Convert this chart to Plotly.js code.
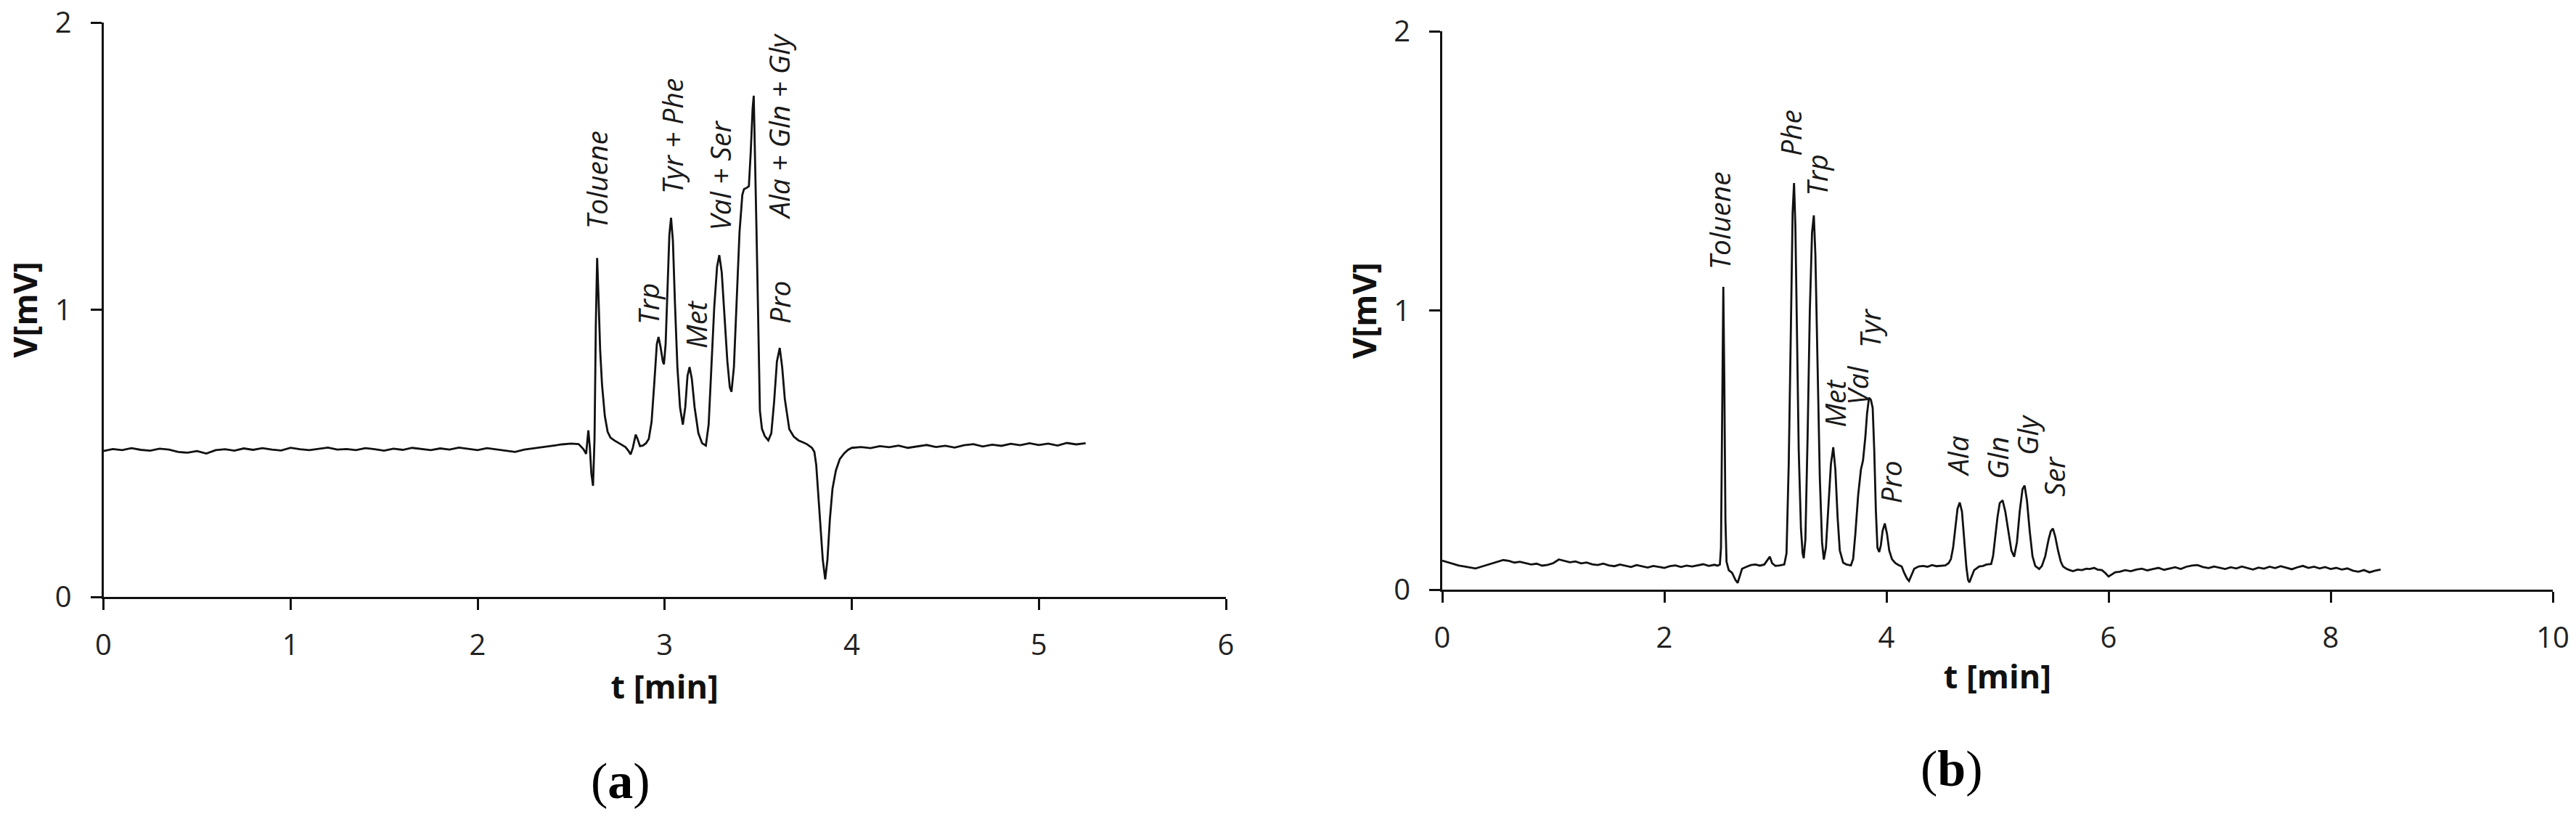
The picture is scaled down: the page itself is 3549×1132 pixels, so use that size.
<!DOCTYPE html>
<html>
<head>
<meta charset="utf-8">
<script src="https://cdn.plot.ly/plotly-3.0.1.min.js"></script>
<style>html,body{margin:0;padding:0;background:#fff;}#chart{width:3549px;height:1132px;}</style>
</head>
<body>
<div id="chart"></div>
<script>
// ---------- Panel (a) data ----------
const baseTimeA = [0,0.05,0.1,0.15,0.2,0.25,0.3,0.35,0.4,0.45,0.5,0.55,0.6,0.65,0.7,0.75,0.8,0.85,0.9,0.95,1.0,1.05,1.1,1.15,1.2,1.25,1.3,1.35,1.4,1.45,1.5,1.55,1.6,1.65,1.7,1.75,1.8,1.85,1.9,1.95,2.0,2.05,2.1,2.15,2.2,2.25,2.3,2.35,2.4,2.45,2.5];
const baseSignalA = [0.508,0.515,0.511,0.518,0.512,0.509,0.516,0.513,0.505,0.502,0.508,0.499,0.511,0.514,0.509,0.517,0.512,0.518,0.513,0.510,0.519,0.514,0.511,0.516,0.520,0.513,0.515,0.511,0.518,0.514,0.509,0.516,0.512,0.519,0.515,0.511,0.517,0.513,0.520,0.516,0.511,0.518,0.514,0.509,0.505,0.513,0.517,0.521,0.526,0.531,0.534];
const peakTimeA = [2.54,2.565,2.58,2.592,2.6,2.608,2.617,2.625,2.632,2.639,2.646,2.655,2.665,2.68,2.695,2.71,2.73,2.75,2.77,2.79,2.805,2.818,2.83,2.845,2.855,2.868,2.883,2.9,2.915,2.93,2.945,2.958,2.967,2.978,2.99,2.996,3.005,3.015,3.025,3.034,3.044,3.055,3.068,3.082,3.097,3.11,3.122,3.133,3.145,3.16,3.18,3.2,3.22,3.235,3.25,3.265,3.28,3.292,3.305,3.32,3.335,3.348,3.357,3.37,3.385,3.4,3.415,3.424,3.44,3.45,3.46,3.47,3.476,3.483,3.49,3.496,3.503,3.509,3.52,3.535,3.554,3.57,3.585,3.6,3.615,3.628,3.642,3.656,3.666,3.69,3.715,3.74,3.76,3.787,3.8,3.81,3.82,3.832,3.845,3.858,3.87,3.883,3.897,3.915,3.936,3.96,3.98,4.0];
const peakSignalA = [0.532,0.515,0.498,0.58,0.52,0.43,0.387,0.55,0.95,1.18,1.05,0.86,0.74,0.63,0.575,0.555,0.545,0.538,0.53,0.522,0.51,0.496,0.52,0.565,0.55,0.525,0.527,0.535,0.55,0.61,0.75,0.88,0.905,0.87,0.82,0.81,0.88,1.08,1.26,1.32,1.24,1.02,0.80,0.66,0.60,0.66,0.77,0.80,0.76,0.66,0.57,0.535,0.527,0.60,0.80,1.01,1.15,1.19,1.13,0.97,0.82,0.73,0.714,0.80,1.05,1.27,1.40,1.42,1.425,1.43,1.55,1.70,1.745,1.55,1.30,1.10,0.85,0.648,0.585,0.56,0.545,0.57,0.68,0.82,0.867,0.80,0.69,0.62,0.584,0.558,0.545,0.538,0.532,0.519,0.505,0.46,0.37,0.261,0.13,0.061,0.13,0.27,0.377,0.44,0.48,0.50,0.512,0.519];
const tailTimeA = [4.05,4.1,4.15,4.2,4.25,4.3,4.35,4.4,4.45,4.5,4.55,4.6,4.65,4.7,4.75,4.8,4.85,4.9,4.95,5.0,5.05,5.1,5.15,5.2,5.25];
const tailSignalA = [0.522,0.518,0.525,0.521,0.527,0.519,0.524,0.529,0.522,0.526,0.520,0.528,0.532,0.524,0.530,0.526,0.533,0.528,0.535,0.529,0.534,0.527,0.536,0.531,0.535];

const labelTextA = ['Toluene','Trp','Tyr + Phe','Met','Val + Ser','Ala + Gln + Gly','Pro'];
const labelTimeA = [2.632,2.907,3.036,3.165,3.295,3.605,3.612];
const labelLevelA = [1.453,1.021,1.603,0.949,1.467,1.638,1.025];

// ---------- Panel (b) data ----------
const baseTimeB = [0,0.05,0.1,0.15,0.2,0.25,0.3,0.35,0.4,0.45,0.5,0.55,0.6,0.65,0.7,0.75,0.8,0.85,0.9,0.95,1.0,1.05,1.1,1.15,1.2,1.25,1.3,1.35,1.4,1.45,1.5,1.55,1.6,1.65,1.7,1.75,1.8,1.85,1.9,1.95,2.0,2.05,2.1,2.15,2.2,2.25,2.3,2.35,2.4,2.45];
const baseSignalB = [0.104,0.098,0.092,0.086,0.083,0.079,0.076,0.082,0.088,0.095,0.101,0.106,0.103,0.097,0.100,0.094,0.090,0.093,0.086,0.089,0.095,0.108,0.104,0.098,0.101,0.094,0.097,0.091,0.088,0.093,0.087,0.084,0.090,0.086,0.081,0.088,0.083,0.079,0.085,0.082,0.078,0.084,0.087,0.081,0.086,0.083,0.088,0.091,0.085,0.089];
const peakTimeB = [2.48,2.5,2.51,2.52,2.531,2.54,2.55,2.56,2.58,2.61,2.64,2.66,2.68,2.7,2.74,2.78,2.82,2.86,2.9,2.93,2.95,2.97,3.0,3.04,3.08,3.1,3.12,3.14,3.155,3.168,3.18,3.195,3.21,3.23,3.245,3.255,3.27,3.29,3.31,3.33,3.346,3.36,3.38,3.4,3.42,3.436,3.455,3.475,3.5,3.521,3.54,3.56,3.58,3.61,3.64,3.68,3.7,3.72,3.745,3.77,3.789,3.81,3.825,3.843,3.86,3.876,3.89,3.905,3.919,3.935,3.95,3.965,3.985,4.005,4.025,4.05,4.08,4.11,4.137,4.16,4.185,4.203,4.225,4.25,4.29,4.33,4.37,4.41,4.45,4.49,4.53,4.56,4.58,4.6,4.62,4.64,4.66,4.68,4.7,4.72,4.735,4.747,4.765,4.79,4.835,4.87,4.9,4.943,4.96,4.98,5.0,5.02,5.046,5.07,5.1,5.125,5.15,5.175,5.2,5.225,5.244,5.265,5.29,5.315,5.34,5.375,5.4,5.43,5.46,5.48,5.499,5.52,5.545,5.57,5.59,5.62,5.65,5.68,5.72,5.76,5.8,5.83,5.87,5.9,5.94,5.97,6.0,6.03,6.06];
const peakSignalB = [0.086,0.09,0.15,0.55,1.085,0.75,0.25,0.10,0.07,0.06,0.035,0.024,0.05,0.075,0.082,0.088,0.09,0.086,0.09,0.105,0.118,0.095,0.085,0.087,0.09,0.13,0.45,0.95,1.35,1.457,1.30,0.90,0.50,0.22,0.13,0.113,0.18,0.55,1.00,1.28,1.341,1.20,0.80,0.40,0.17,0.108,0.15,0.28,0.45,0.51,0.43,0.26,0.14,0.097,0.09,0.087,0.11,0.20,0.338,0.43,0.463,0.547,0.63,0.688,0.68,0.651,0.50,0.28,0.15,0.135,0.16,0.21,0.237,0.20,0.14,0.109,0.095,0.088,0.083,0.06,0.04,0.031,0.05,0.075,0.083,0.085,0.082,0.088,0.084,0.086,0.087,0.095,0.109,0.15,0.22,0.29,0.312,0.28,0.18,0.08,0.035,0.026,0.045,0.07,0.083,0.085,0.09,0.092,0.12,0.19,0.26,0.31,0.32,0.28,0.20,0.14,0.118,0.17,0.28,0.36,0.373,0.32,0.21,0.12,0.085,0.074,0.085,0.12,0.18,0.21,0.219,0.19,0.14,0.10,0.083,0.075,0.07,0.066,0.072,0.070,0.075,0.074,0.078,0.072,0.07,0.06,0.047,0.055,0.062];
const tailTimeB = [6.1,6.15,6.2,6.25,6.3,6.35,6.4,6.45,6.5,6.55,6.6,6.65,6.7,6.75,6.8,6.85,6.9,6.95,7.0,7.05,7.1,7.15,7.2,7.25,7.3,7.35,7.4,7.45,7.5,7.55,7.6,7.65,7.7,7.75,7.8,7.85,7.9,7.95,8.0,8.05,8.1,8.15,8.2,8.25,8.3,8.35,8.4,8.45];
const tailSignalB = [0.064,0.070,0.066,0.072,0.075,0.069,0.074,0.078,0.071,0.076,0.080,0.074,0.082,0.086,0.088,0.081,0.077,0.083,0.079,0.074,0.080,0.076,0.083,0.078,0.072,0.079,0.075,0.082,0.077,0.084,0.079,0.073,0.080,0.085,0.078,0.082,0.076,0.081,0.074,0.078,0.072,0.076,0.068,0.064,0.070,0.062,0.068,0.072];

const labelTextB = ['Toluene','Phe','Trp','Met','Val','Tyr','Pro','Ala','Gln','Gly','Ser'];
const labelTimeB = [2.492,3.134,3.373,3.534,3.739,3.850,4.039,4.637,5.0,5.264,5.51];
const labelLevelB = [1.3215,1.635,1.484,0.669,0.732,0.937,0.386,0.478,0.471,0.555,0.406];

const xTicksA = [0,1,2,3,4,5,6];
const xTicksB = [0,2,4,6,8,10];
const yTicks = [0,1,2];
const panelTags = ['a','b'];

// ---------- build ----------
const timeA = baseTimeA.concat(peakTimeA, tailTimeA);
const signalA = baseSignalA.concat(peakSignalA, tailSignalA);
const timeB = baseTimeB.concat(peakTimeB, tailTimeB);
const signalB = baseSignalB.concat(peakSignalB, tailSignalB);

const lineStyle = {color:'#111', width:2.8};
const traces = [
  {x:timeA, y:signalA, type:'scatter', mode:'lines', line:lineStyle, xaxis:'x', yaxis:'y', hoverinfo:'skip'},
  {x:timeB, y:signalB, type:'scatter', mode:'lines', line:lineStyle, xaxis:'x2', yaxis:'y2', hoverinfo:'skip'}
];

const tickFont = {family:'"Open Sans", sans-serif', size:40, color:'#222'};
const titleFont = {family:'"Open Sans", sans-serif', size:45, color:'#111', weight:'bold'};
function axisBase(){
  return {showgrid:false, zeroline:false, showline:true, linecolor:'#111', linewidth:3,
          ticks:'outside', ticklen:15, tickwidth:3, tickcolor:'#111', tickfont:tickFont,
          fixedrange:true, automargin:false};
}
const W = 3549, H = 1132;
const layout = {
  width:W, height:H, margin:{l:0,r:0,t:0,b:0}, showlegend:false,
  paper_bgcolor:'#fff', plot_bgcolor:'#fff',
  xaxis:Object.assign(axisBase(), {domain:[142.5/W, 1689/W], range:[0,6], tickvals:xTicksA, anchor:'y',
        ticklabelstandoff:14, title:{text:'t [min]', font:titleFont, standoff:14}}),
  yaxis:Object.assign(axisBase(), {domain:[(H-822)/H, (H-31)/H], range:[0,2], tickvals:yTicks, anchor:'x',
        ticklabelstandoff:18, title:{text:'V[mV]', font:titleFont, standoff:10}}),
  xaxis2:Object.assign(axisBase(), {domain:[1987/W, 3517/W], range:[0,10], tickvals:xTicksB, anchor:'y2',
        ticklabelstandoff:14, title:{text:'t [min]', font:titleFont, standoff:14}}),
  yaxis2:Object.assign(axisBase(), {domain:[(H-812)/H, (H-43.3)/H], range:[0,2], tickvals:yTicks, anchor:'x2',
        ticklabelstandoff:18, title:{text:'V[mV]', font:titleFont, standoff:10}}),
  annotations:[]
};
const labFont = {family:'"Open Sans", sans-serif', size:39, color:'#1a1a1a', style:'italic'};
labelTextA.forEach((t,i)=>layout.annotations.push({text:t, x:labelTimeA[i], y:labelLevelA[i], xref:'x', yref:'y',
  textangle:-90, showarrow:false, xanchor:'center', yanchor:'middle', font:labFont}));
labelTextB.forEach((t,i)=>layout.annotations.push({text:t, x:labelTimeB[i], y:labelLevelB[i], xref:'x2', yref:'y2',
  textangle:-90, showarrow:false, xanchor:'center', yanchor:'middle', font:labFont}));
const tagFont = {family:'"Liberation Serif", "Times New Roman", serif', size:70, color:'#000'};
layout.annotations.push({text:'(<b>'+panelTags[0]+'</b>)', x:855/W, y:(H-1075)/H, xref:'paper', yref:'paper', showarrow:false, xanchor:'center', yanchor:'middle', font:tagFont});
layout.annotations.push({text:'(<b>'+panelTags[1]+'</b>)', x:2689/W, y:(H-1058)/H, xref:'paper', yref:'paper', showarrow:false, xanchor:'center', yanchor:'middle', font:tagFont});

Plotly.newPlot('chart', traces, layout, {staticPlot:true, displayModeBar:false});
</script>
</body>
</html>
